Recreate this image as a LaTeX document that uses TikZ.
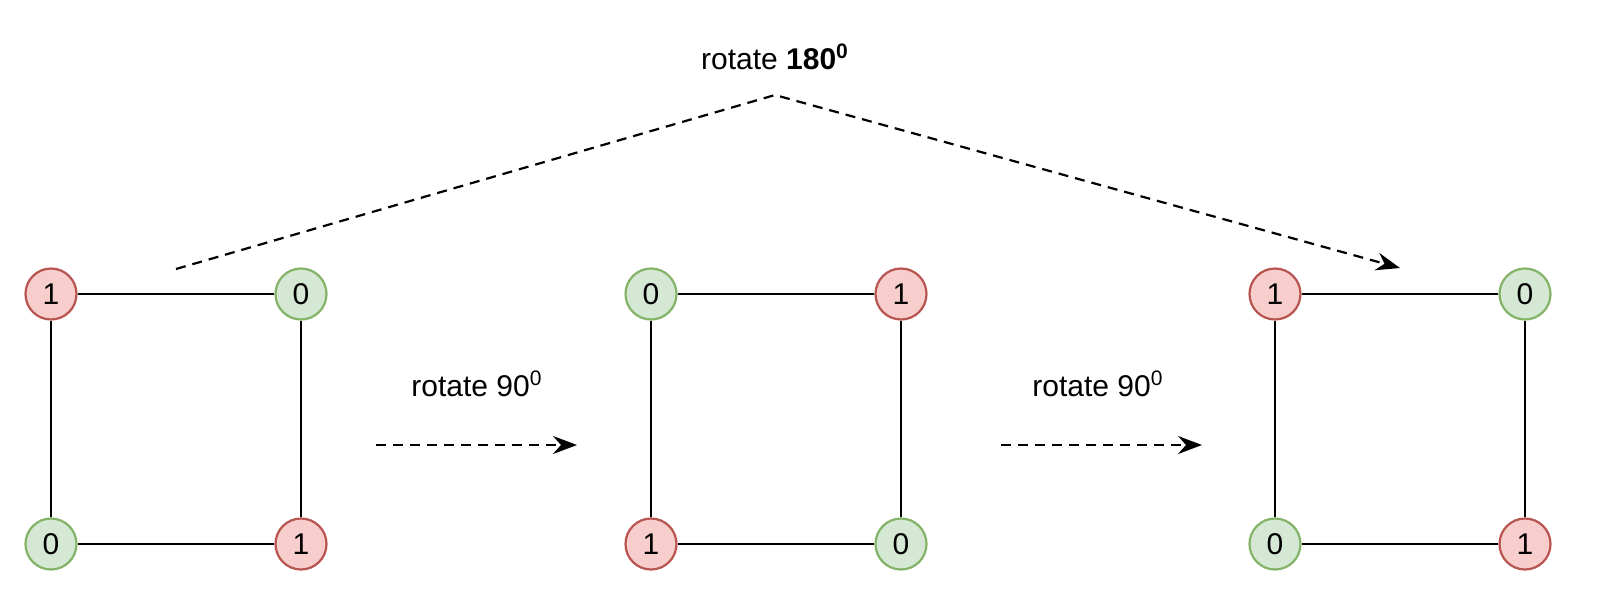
\documentclass[tikz,border=0pt]{standalone}
\usepackage{fontspec}
\setmainfont{Liberation Sans}
\usetikzlibrary{arrows.meta}

\definecolor{onefill}{HTML}{F8CECC}
\definecolor{oneline}{HTML}{B85450}
\definecolor{zerofill}{HTML}{D5E8D4}
\definecolor{zeroline}{HTML}{82B366}

\tikzset{
  bit/.style={circle, line width=1.1pt, minimum size=25.5pt, inner sep=0pt, font=\fontsize{15}{18}\selectfont},
  one/.style={bit, draw=oneline, fill=onefill},
  zero/.style={bit, draw=zeroline, fill=zerofill},
  side/.style={line width=1.2pt},
  rotarrow/.style={line width=1.1pt, dash pattern=on 5pt off 3.5pt, -{Stealth[length=12pt,width=9pt,inset=4pt]}},
  rotlabel/.style={font=\fontsize{15}{18}\selectfont}
}

\begin{document}
\begin{tikzpicture}[x=0.5pt,y=-0.5pt]
\useasboundingbox (0,0) rectangle (1606,600);

\node[one]  (a1) at (51,294)  {1};
\node[zero] (a2) at (301,294) {0};
\node[zero] (a3) at (51,544)  {0};
\node[one]  (a4) at (301,544) {1};
\draw[side] (a1) -- (a2);
\draw[side] (a2) -- (a4);
\draw[side] (a4) -- (a3);
\draw[side] (a3) -- (a1);

\node[zero] (b1) at (651,294) {0};
\node[one]  (b2) at (901,294) {1};
\node[one]  (b3) at (651,544) {1};
\node[zero] (b4) at (901,544) {0};
\draw[side] (b1) -- (b2);
\draw[side] (b2) -- (b4);
\draw[side] (b4) -- (b3);
\draw[side] (b3) -- (b1);

\node[one]  (c1) at (1275,294) {1};
\node[zero] (c2) at (1525,294) {0};
\node[zero] (c3) at (1275,544) {0};
\node[one]  (c4) at (1525,544) {1};
\draw[side] (c1) -- (c2);
\draw[side] (c2) -- (c4);
\draw[side] (c4) -- (c3);
\draw[side] (c3) -- (c1);

\coordinate (r1s) at (376,445);
\coordinate (r1e) at (577,445);
\coordinate (r2s) at (1001,445);
\coordinate (r2e) at (1202,445);
\draw[rotarrow] (r1s) -- (r1e);
\draw[rotarrow] (r2s) -- (r2e);
\node[rotlabel] (l1) at (477,384) {rotate 90\textsuperscript{0}};
\node[rotlabel] (l2) at (1098,384) {rotate 90\textsuperscript{0}};

\coordinate (hs) at (176,269);
\coordinate (hm) at (775,95);
\coordinate (he) at (1400,268);
\draw[rotarrow] (hs) -- (hm) -- (he);
\node[rotlabel] (l3) at (775,57) {rotate \textbf{180\textsuperscript{0}}};

\end{tikzpicture}
\end{document}
